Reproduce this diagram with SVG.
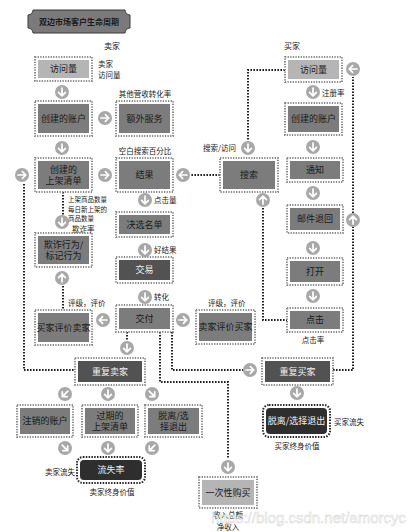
<svg xmlns="http://www.w3.org/2000/svg" xmlns:xlink="http://www.w3.org/1999/xlink" width="413" height="532" viewBox="0 0 413 532">
<style>
text{font-family:"Noto Sans CJK SC","Noto Sans",sans-serif;fill:#1a1a1a}
.bt{font-size:9px;text-anchor:middle}
.bw{font-size:9px;text-anchor:middle;fill:#f0f0f0}
.lb{font-size:7.5px}
.sm{font-size:6.5px}
.c{text-anchor:middle}
.e{text-anchor:end}
.frame{fill:#fff;stroke:#8c8c8c;stroke-width:2;stroke-dasharray:1.3 1.3}
.fl{fill:#b5b5b5}
.fm{fill:#7c7c7c}
.fd{fill:#525252}
.fx{fill:#2e2e2e}
.rframe{fill:#fff;stroke:#2a2a2a;stroke-width:2;stroke-dasharray:1.5 1.3}
.conn{fill:none;stroke:#222;stroke-width:2;stroke-dasharray:1.6 1.4}
</style>
<defs>
<g id="ad"><circle r="7" fill="#a8a8a8"/><path d="M0,-4V3.8M-3.4,0.4L0,3.8L3.4,0.4" stroke="#fff" stroke-width="1.7" fill="none" stroke-linecap="round" stroke-linejoin="round"/></g>
</defs>
<rect width="413" height="532" fill="#fff"/>

<g id="title">
<path d="M33,10H125A5,5 0 0 0 130,15V28A5,5 0 0 0 125,33H33A5,5 0 0 0 28,28V15A5,5 0 0 0 33,10Z" fill="#7a7a7a" stroke="#3a3a3a" stroke-width="1"/>
<text x="79" y="25" class="c" style="font-size:8px;font-weight:bold">双边市场客户生命周期</text>
</g>

<g id="connectors">
<path class="conn" d="M24,184V370H75"/>
<path class="conn" d="M160,332V382H228V459"/>
<path class="conn" d="M172,332V370H243"/>
<path class="conn" d="M333,370H353V77"/>
<path class="conn" d="M285,70H248V140"/>
<path class="conn" d="M220,175H190"/>
<path class="conn" d="M263,208V320H287"/>
<path class="conn" d="M63,192V215"/>
<path class="conn" d="M63,286V310"/>
<path class="conn" d="M127,332V341"/>
<use href="#ad" transform="translate(62,92)"/>
<use href="#ad" transform="translate(105,118) rotate(-90)"/>
<use href="#ad" transform="translate(62,148)"/>
<use href="#ad" transform="translate(105,175) rotate(-90)"/>
<use href="#ad" transform="translate(22,175) rotate(-90)"/>
<use href="#ad" transform="translate(183,175) rotate(90)"/>
<use href="#ad" transform="translate(62,222)"/>
<use href="#ad" transform="translate(145,200)"/>
<use href="#ad" transform="translate(145,250)"/>
<use href="#ad" transform="translate(145,297)"/>
<use href="#ad" transform="translate(62,278) rotate(180)"/>
<use href="#ad" transform="translate(103,320) rotate(90)"/>
<use href="#ad" transform="translate(183,320) rotate(-90)"/>
<use href="#ad" transform="translate(127,348)"/>
<use href="#ad" transform="translate(65,394) rotate(45)"/>
<use href="#ad" transform="translate(108,394)"/>
<use href="#ad" transform="translate(152,394) rotate(-45)"/>
<use href="#ad" transform="translate(65,448) rotate(-45)"/>
<use href="#ad" transform="translate(108,448)"/>
<use href="#ad" transform="translate(152,448) rotate(45)"/>
<use href="#ad" transform="translate(297,393)"/>
<use href="#ad" transform="translate(228,467)"/>
<use href="#ad" transform="translate(250,370) rotate(-90)"/>
<use href="#ad" transform="translate(353,69) rotate(90)"/>
<use href="#ad" transform="translate(353,220) rotate(180)"/>
<use href="#ad" transform="translate(313,92)"/>
<use href="#ad" transform="translate(313,147)"/>
<use href="#ad" transform="translate(313,193)"/>
<use href="#ad" transform="translate(313,248)"/>
<use href="#ad" transform="translate(313,296)"/>
<use href="#ad" transform="translate(248,148)"/>
<use href="#ad" transform="translate(263,200) rotate(180)"/>
</g>

<g id="s_visit"><rect class="frame" x="35" y="57" width="57" height="24"/><rect class="fl" x="38" y="60" width="51" height="18"/><text class="bt" x="63.5" y="72">访问量</text></g>
<g id="s_account"><rect class="frame" x="35" y="101" width="57" height="35"/><rect class="fm" x="38" y="104" width="51" height="29"/><text class="bt" x="63.5" y="121.5">创建的账户</text></g>
<g id="extra"><rect class="frame" x="116" y="101" width="57" height="35"/><rect class="fm" x="119" y="104" width="51" height="29"/><text class="bt" x="144.5" y="121.5">额外服务</text></g>
<g id="listing"><rect class="frame" x="35" y="158" width="57" height="34"/><rect class="fm" x="38" y="161" width="51" height="28"/><text class="bt" x="63.5" y="172.5">创建的</text><text class="bt" x="63.5" y="184">上架清单</text></g>
<g id="results"><rect class="frame" x="116" y="158" width="57" height="34"/><rect class="fm" x="119" y="161" width="51" height="28"/><text class="bt" x="144.5" y="178">结果</text></g>
<g id="fraud"><rect class="frame" x="35" y="233" width="57" height="34"/><rect class="fm" x="38" y="236" width="51" height="28"/><text class="bt" x="63.5" y="247.5">欺诈行为/</text><text class="bt" x="63.5" y="259">标记行为</text></g>
<g id="shortlist"><rect class="frame" x="116" y="212" width="57" height="25"/><rect class="fm" x="119" y="215" width="51" height="19"/><text class="bt" x="144.5" y="227.5">决选名单</text></g>
<g id="trade"><rect class="frame" x="116" y="257" width="57" height="26"/><rect class="fd" x="119" y="260" width="51" height="20"/><text class="bw" x="144.5" y="273">交易</text></g>
<g id="deliver"><rect class="frame" x="116" y="305" width="57" height="27"/><rect class="fm" x="119" y="308" width="51" height="21"/><text class="bt" x="144.5" y="321.5">交付</text></g>
<g id="buyer_rates_seller"><rect class="frame" x="35" y="310" width="57" height="35"/><rect class="fm" x="38" y="313" width="51" height="29"/><text class="bt" x="63.5" y="330.5">买家评价卖家</text></g>
<g id="seller_rates_buyer"><rect class="frame" x="196" y="310" width="59" height="34"/><rect class="fm" x="199" y="313" width="53" height="28"/><text class="bt" x="225.5" y="330">卖家评价买家</text></g>
<g id="repeat_seller"><rect class="frame" x="75" y="358" width="70" height="27"/><rect class="fd" x="78" y="361" width="64" height="21"/><text class="bw" x="110" y="374.5">重复卖家</text></g>
<g id="cancel"><rect class="frame" x="17" y="405" width="56" height="32"/><rect class="fm" x="20" y="408" width="50" height="26"/><text class="bt" x="45" y="424">注销的账户</text></g>
<g id="expired"><rect class="frame" x="82" y="405" width="56" height="32"/><rect class="fm" x="85" y="408" width="50" height="26"/><text class="bt" x="110" y="418.5">过期的</text><text class="bt" x="110" y="430">上架清单</text></g>
<g id="optout_seller"><rect class="frame" x="145" y="405" width="57" height="32"/><rect class="fm" x="148" y="408" width="51" height="26"/><text class="bt" x="173.5" y="418.5">脱离/选</text><text class="bt" x="173.5" y="430">择退出</text></g>
<g id="churn"><rect class="rframe" x="77" y="457" width="68" height="26" rx="6"/><rect class="fx" x="80" y="460" width="62" height="20" rx="4"/><text class="bw" x="111" y="473">流失率</text></g>
<g id="search"><rect class="frame" x="220" y="158" width="58" height="34"/><rect class="fm" x="223" y="161" width="52" height="28"/><text class="bt" x="249" y="178">搜索</text></g>
<g id="b_visit"><rect class="frame" x="285" y="57" width="57" height="25"/><rect class="fl" x="288" y="60" width="51" height="19"/><text class="bt" x="313.5" y="72.5">访问量</text></g>
<g id="b_account"><rect class="frame" x="285" y="103" width="57" height="32"/><rect class="fm" x="288" y="106" width="51" height="26"/><text class="bt" x="313.5" y="122">创建的账户</text></g>
<g id="notify"><rect class="frame" x="287" y="158" width="56" height="24"/><rect class="fm" x="290" y="161" width="50" height="18"/><text class="bt" x="315" y="173">通知</text></g>
<g id="bounce"><rect class="frame" x="287" y="205" width="56" height="28"/><rect class="fm" x="290" y="208" width="50" height="22"/><text class="bt" x="315" y="222">邮件退回</text></g>
<g id="open"><rect class="frame" x="287" y="258" width="56" height="27"/><rect class="fm" x="290" y="261" width="50" height="21"/><text class="bt" x="315" y="274.5">打开</text></g>
<g id="click"><rect class="frame" x="287" y="308" width="56" height="24"/><rect class="fm" x="290" y="311" width="50" height="18"/><text class="bt" x="315" y="323">点击</text></g>
<g id="repeat_buyer"><rect class="frame" x="262" y="358" width="71" height="27"/><rect class="fd" x="265" y="361" width="65" height="21"/><text class="bw" x="297.5" y="374.5">重复买家</text></g>
<g id="optout_buyer"><rect class="rframe" x="263" y="405" width="67" height="32" rx="6"/><rect class="fx" x="266" y="408" width="61" height="26" rx="4"/><text class="bw" x="296.5" y="424">脱离/选择退出</text></g>
<g id="one_time"><rect class="frame" x="199" y="477" width="58" height="31"/><rect class="fl" x="202" y="480" width="52" height="25"/><text class="bt" x="228" y="495.5">一次性购买</text></g>

<g id="labels">
<text class="lb c" x="112" y="49" style="font-size:8px">卖家</text>
<text class="lb" x="98" y="67">卖家</text>
<text class="lb" x="98" y="78">访问量</text>
<text class="lb c" x="145" y="97">其他营收转化率</text>
<text class="lb c" x="145" y="154">空白搜索百分比</text>
<text class="sm" x="68" y="202">上架商品数量</text>
<text class="sm" x="68" y="211.5">每日新上架的</text>
<text class="sm" x="68" y="221">商品数量</text>
<text class="lb" x="72" y="232">欺诈率</text>
<text class="lb" x="154" y="203">点击量</text>
<text class="lb" x="154" y="253">好结果</text>
<text class="lb" x="154" y="300">转化</text>
<text class="lb" x="68" y="306">评级，评价</text>
<text class="lb" x="208" y="306">评级，评价</text>
<text class="lb" x="203" y="151">搜索/访问</text>
<text class="lb c" x="292" y="49" style="font-size:8px">买家</text>
<text class="lb" x="322" y="96">注册率</text>
<text class="lb c" x="313" y="343">点击率</text>
<text class="lb e" x="75" y="475">卖家流失</text>
<text class="lb c" x="112" y="495">卖家终身价值</text>
<text class="lb" x="334" y="425">买家流失</text>
<text class="lb c" x="297" y="449">买家终身价值</text>
<text class="lb c" x="228" y="518">收入总额</text>
<text class="lb c" x="228" y="529.5">净收入</text>
<text x="406" y="523" class="e" style="font-family:'Liberation Sans',sans-serif;font-size:15px;fill:#ffffff;stroke:#d0d0d0;stroke-width:0.5;opacity:0.9">https://blog.csdn.net/amorcyc</text>
</g>
</svg>
